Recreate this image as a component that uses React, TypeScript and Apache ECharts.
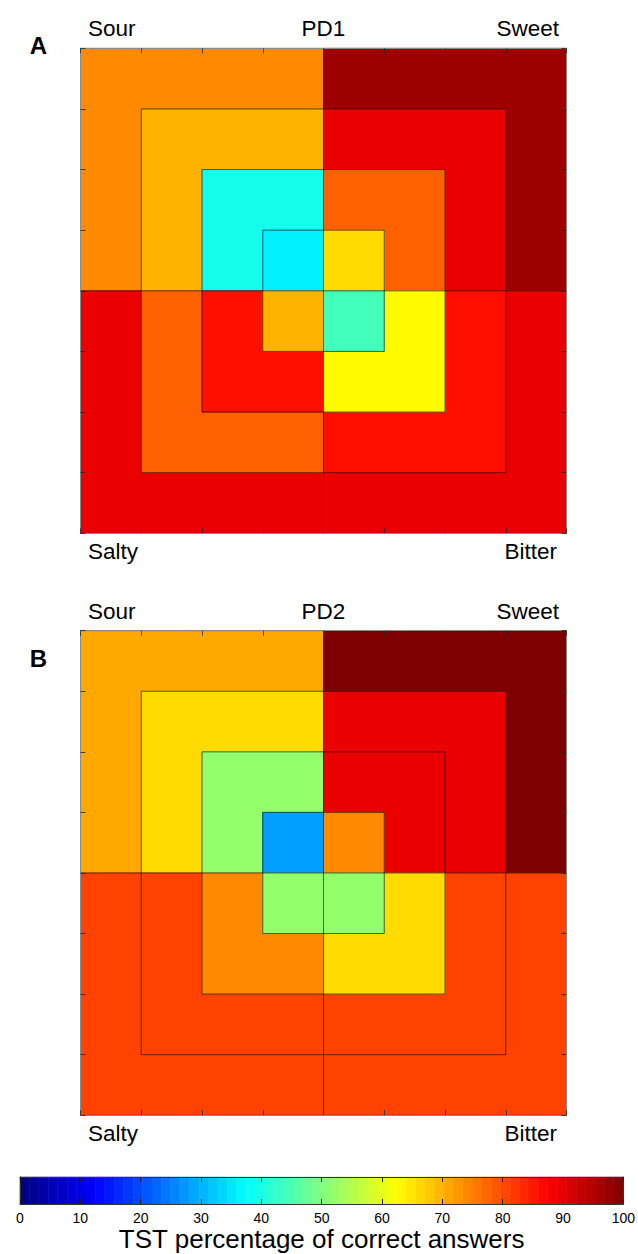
import React, { useEffect, useRef } from "react";
import * as echarts from "echarts";

// Quadrant order: Sour (top-left), Sweet (top-right), Salty (bottom-left), Bitter (bottom-right)
const quadrants = ["Sour", "Sweet", "Salty", "Bitter"];
// values per ring, outer (0) to inner (3)
const pd1Sour = [74, 70, 39.5, 36];
const pd1Sweet = [97, 89.5, 78, 66];
const pd1Salty = [89.5, 78, 86, 70];
const pd1Bitter = [89.5, 86, 63, 44];

const pd2Sour = [71, 66, 52, 28];
const pd2Sweet = [100, 89.5, 89.5, 74];
const pd2Salty = [81, 81, 74, 52];
const pd2Bitter = [81, 81, 66, 52];

const colorbarTicks = [0, 10, 20, 30, 40, 50, 60, 70, 80, 90, 100];
const colorbarLevels = 64;

const jetColors = [
  "#00007F", "#0000FF", "#007FFF", "#00FFFF", "#7FFF7F",
  "#FFFF00", "#FF7F00", "#FF0000", "#7F0000",
];

const FONT = "'Liberation Sans', Arial, Helvetica, sans-serif";

function buildPanel(lists: number[][]) {
  const out: number[][] = [];
  lists.forEach((vals, q) => vals.forEach((v, k) => out.push([q, k, v])));
  return out;
}

function ringPoints(api: any) {
  const q = api.value(0);
  const k = api.value(1);
  const sx = q % 2 === 0 ? -1 : 1;
  const sy = q < 2 ? 1 : -1;
  const d0 = 4 - k;
  const d1 = 3 - k;
  const rel = [
    [sx * d0, 0], [sx * d0, sy * d0], [0, sy * d0],
    [0, sy * d1], [sx * d1, sy * d1], [sx * d1, 0],
  ];
  return rel.map(([dx, dy]) => api.coord([4 + dx, 4 + dy]));
}

export default function App() {
  const ref = useRef<HTMLDivElement>(null);
  useEffect(() => {
    document.body.style.margin = "0";
    const chart = echarts.init(ref.current!, undefined, { renderer: "svg" });
    const pd1 = buildPanel([pd1Sour, pd1Sweet, pd1Salty, pd1Bitter]);
    const pd2 = buildPanel([pd2Sour, pd2Sweet, pd2Salty, pd2Bitter]);
    const cb = Array.from({ length: colorbarLevels }, (_, i) => [
      (i * 100) / colorbarLevels,
      ((i + 1) * 100) / colorbarLevels,
      ((i + 0.5) * 100) / colorbarLevels,
    ]);

    const frameColor = "#8a8a8a";
    const tickColor = "rgba(40,40,40,0.8)";
    const panelX = (gridIndex: number, position: string) => ({
      gridIndex, type: "value", min: 0, max: 8, interval: 1, position, z: 10,
      axisLine: { show: true, onZero: false, lineStyle: { color: frameColor, width: 1 } },
      axisTick: { show: true, inside: true, length: 5, lineStyle: { color: tickColor } },
      axisLabel: { show: false }, splitLine: { show: false },
    });

    const fillRender = (params: any, api: any) => {
      const color = api.visual("color");
      return {
        type: "polygon",
        shape: { points: ringPoints(api) },
        style: { fill: color, stroke: color, lineWidth: 0.6 },
      };
    };
    const lineRender = (params: any, api: any) => ({
      type: "polygon",
      shape: { points: ringPoints(api) },
      style: { fill: "none", stroke: "rgba(0,0,0,0.34)", lineWidth: 1 },
    });
    const cbRender = (params: any, api: any) => {
      const p0 = api.coord([api.value(0), 0]);
      const p1 = api.coord([api.value(1), 1]);
      const color = api.visual("color");
      return {
        type: "rect",
        shape: { x: p0[0], y: p1[1], width: p1[0] - p0[0], height: p0[1] - p1[1] },
        style: { fill: color, stroke: color, lineWidth: 0.6 },
      };
    };

    const txt = (text: string, x: number, y: number, align: string, size = 22.5, weight = "normal") => ({
      type: "text", x, y, z: 100,
      style: { text, fill: "#000", fontSize: size, fontFamily: FONT, fontWeight: weight, align, verticalAlign: "middle" },
    });
    const dy = 582.4;

    chart.setOption({
      animation: false,
      backgroundColor: "#fff",
      grid: [
        { left: 80.5, top: 48.3, width: 486, height: 485 },
        { left: 80.5, top: 630.7, width: 486, height: 484.5 },
        { left: 20, top: 1177, width: 605, height: 27 },
      ],
      xAxis: [
        panelX(0, "bottom"), panelX(0, "top"),
        panelX(1, "bottom"), panelX(1, "top"),
        {
          gridIndex: 2, type: "value", min: 0, max: 100, interval: 10, position: "bottom", z: 10,
          axisLine: { show: true, onZero: false, lineStyle: { color: "#333", width: 1 } },
          axisTick: { show: true, inside: true, length: 5, lineStyle: { color: "#222" } },
          axisLabel: {
            show: true, margin: 7, color: "#000", fontSize: 14, fontFamily: FONT,
            formatter: (v: number) => (colorbarTicks.includes(v) ? String(v) : ""),
          },
          splitLine: { show: false },
          name: "TST percentage of correct answers", nameLocation: "middle", nameGap: 20,
          nameTextStyle: { fontSize: 26, color: "#000", fontFamily: FONT, verticalAlign: "top" },
        },
        {
          gridIndex: 2, type: "value", min: 0, max: 100, interval: 10, position: "top", z: 10,
          axisLine: { show: true, onZero: false, lineStyle: { color: "#333", width: 1 } },
          axisTick: { show: true, inside: true, length: 5, lineStyle: { color: "#222" } },
          axisLabel: { show: false }, splitLine: { show: false },
        },
      ],
      yAxis: [
        panelX(0, "left"), panelX(0, "right"),
        panelX(1, "left"), panelX(1, "right"),
        {
          gridIndex: 2, type: "value", min: 0, max: 1, position: "left", z: 10,
          axisLine: { show: true, onZero: false, lineStyle: { color: "#333", width: 1 } },
          axisTick: { show: false }, axisLabel: { show: false }, splitLine: { show: false },
        },
        {
          gridIndex: 2, type: "value", min: 0, max: 1, position: "right", z: 10,
          axisLine: { show: true, onZero: false, lineStyle: { color: "#333", width: 1 } },
          axisTick: { show: false }, axisLabel: { show: false }, splitLine: { show: false },
        },
      ],
      visualMap: {
        type: "continuous", show: false, min: 0, max: 100, dimension: 2,
        seriesIndex: [0, 2, 4], inRange: { color: jetColors },
      },
      series: [
        { type: "custom", name: "PD1", xAxisIndex: 0, yAxisIndex: 0, data: pd1, renderItem: fillRender, z: 2 },
        { type: "custom", name: "PD1 outline", xAxisIndex: 0, yAxisIndex: 0, data: pd1, renderItem: lineRender, z: 3, silent: true },
        { type: "custom", name: "PD2", xAxisIndex: 2, yAxisIndex: 2, data: pd2, renderItem: fillRender, z: 2 },
        { type: "custom", name: "PD2 outline", xAxisIndex: 2, yAxisIndex: 2, data: pd2, renderItem: lineRender, z: 3, silent: true },
        { type: "custom", name: "colorbar", xAxisIndex: 4, yAxisIndex: 4, data: cb, renderItem: cbRender, z: 2 },
      ],
      graphic: [
        txt(quadrants[0], 88, 28.6, "left"),
        txt("PD1", 323.5, 28.6, "center"),
        txt(quadrants[1], 559, 28.6, "right"),
        txt(quadrants[2], 88, 551, "left"),
        txt(quadrants[3], 557, 551, "right"),
        txt("A", 38.5, 45, "center", 24, "bold"),
        txt(quadrants[0], 88, 28.6 + dy, "left"),
        txt("PD2", 323.5, 28.6 + dy, "center"),
        txt(quadrants[1], 559, 28.6 + dy, "right"),
        txt(quadrants[2], 88, 551 + dy, "left"),
        txt(quadrants[3], 557, 551 + dy, "right"),
        txt("B", 38.5, 658, "center", 24, "bold"),
      ],
    });
    return () => chart.dispose();
  }, []);
  return <div ref={ref} style={{ width: 638, height: 1254 }} />;
}
